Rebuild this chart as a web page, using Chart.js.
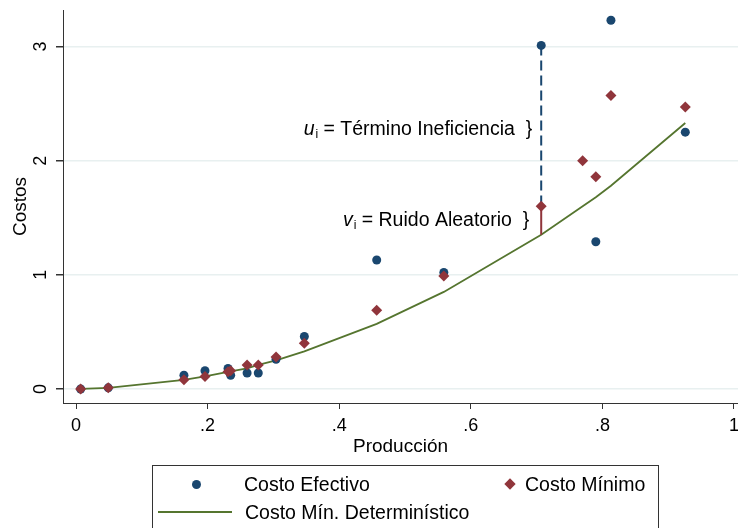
<!DOCTYPE html>
<html>
<head>
<meta charset="utf-8">
<script src="https://cdn.jsdelivr.net/npm/chart.js@4/dist/chart.umd.min.js"></script>
<style>
  body { margin: 0; background: #fff; }
  #wrap { position: relative; width: 738px; height: 528px; overflow: hidden;
          font-family: "Liberation Sans", Arial, sans-serif; }
  #legend { position: absolute; left: 152px; top: 465px; width: 507px; height: 80px;
            border: 1px solid #333; box-sizing: border-box; }
  .item { position: absolute; font-size: 19.5px; color: #000; white-space: nowrap; }
  .mk { position: absolute; }
</style>
</head>
<body>
<div id="wrap">
  <canvas id="chart" width="738" height="528"></canvas>
  <div id="legend"></div>
</div>
<script>
// output (x) shared by all series
let produccion = [0.007, 0.049, 0.164, 0.196, 0.231, 0.235, 0.260, 0.277, 0.304,
                  0.347, 0.457, 0.559, 0.707, 0.770, 0.790, 0.813, 0.926];
// observed cost
let costoEfectivo = [0.00, 0.01, 0.12, 0.16, 0.18, 0.12, 0.14, 0.14, 0.26,
                     0.46, 1.13, 1.02, 3.01, null, 1.29, 3.23, 2.25];
// minimum cost (frontier + noise)
let costoMinimo = [0.00, 0.01, 0.08, 0.11, 0.15, 0.16, 0.21, 0.21, 0.28,
                   0.40, 0.69, 0.99, 1.60, 2.00, 1.86, 2.57, 2.47];
// deterministic frontier
let costoDet = [0.00, 0.01, 0.08, 0.11, 0.15, 0.155, 0.18, 0.21, 0.25,
                0.33, 0.57, 0.85, 1.35, 1.60, 1.68, 1.78, 2.33];

let xTicks = [0, 0.2, 0.4, 0.6, 0.8, 1];
let xTickLabels = ['0', '.2', '.4', '.6', '.8', '1'];
let yTicks = [0, 1, 2, 3];

// the observation used to show the two error parts
let obs = 12;

const navy = '#1a476f';
const maroon = '#90353b';
const green = '#55752f';
const font = '"Liberation Sans", Arial, sans-serif';

function pts(ys) {
  let out = [];
  for (let i = 0; i < produccion.length; i++) {
    if (ys[i] !== null) out.push({x: produccion[i], y: ys[i]});
  }
  return out;
}

// rotated y tick labels + the u / v annotations
const extras = {
  id: 'extras',
  afterDraw(chart) {
    const ctx = chart.ctx;
    const xs = chart.scales.x, ys = chart.scales.y;
    ctx.save();
    ctx.fillStyle = '#000';
    ctx.font = '18px ' + font;
    ctx.textAlign = 'center';
    ctx.textBaseline = 'middle';
    for (let v of yTicks) {
      ctx.save();
      ctx.translate(41, ys.getPixelForValue(v));
      ctx.rotate(-Math.PI / 2);
      ctx.fillText(String(v), 0, 0);
      ctx.restore();
    }

    let xo = xs.getPixelForValue(produccion[obs]);
    let notes = [
      {sym: 'u', text: ' = Término Ineficiencia  }', y: (costoEfectivo[obs] + costoMinimo[obs]) / 2, dy: 2, gap: 9},
      {sym: 'v', text: ' = Ruido Aleatorio  }', y: (costoMinimo[obs] + costoDet[obs]) / 2, dy: -2, gap: 12}
    ];
    ctx.textAlign = 'left';
    ctx.textBaseline = 'alphabetic';
    for (let n of notes) {
      let py = ys.getPixelForValue(n.y) + n.dy + 7;
      ctx.font = '19.5px ' + font;
      let wText = ctx.measureText(n.text).width;
      ctx.font = '12px ' + font;
      let wSub = ctx.measureText('i').width;
      ctx.font = 'italic 19.5px ' + font;
      let wSym = ctx.measureText(n.sym).width;
      let x0 = xo - n.gap - wText - wSub - wSym - 1;
      ctx.fillText(n.sym, x0, py);
      ctx.font = '12px ' + font;
      ctx.fillText('i', x0 + wSym + 1, py + 3);
      ctx.font = '19.5px ' + font;
      ctx.fillText(n.text, x0 + wSym + wSub + 1, py);
    }
    ctx.restore();
  }
};

let chart = new Chart(document.getElementById('chart'), {
  type: 'scatter',
  data: {
    datasets: [
      {
        label: 'Costo Mínimo',
        data: pts(costoMinimo),
        pointStyle: 'rectRot',
        pointRadius: 5.5,
        backgroundColor: maroon,
        borderColor: maroon,
        borderWidth: 0
      },
      {
        label: 'Costo Efectivo',
        data: pts(costoEfectivo),
        pointStyle: 'circle',
        pointRadius: 4.5,
        backgroundColor: navy,
        borderColor: navy,
        borderWidth: 0
      },
      {
        label: 'u',
        data: [{x: produccion[obs], y: costoEfectivo[obs]}, {x: produccion[obs], y: costoMinimo[obs]}],
        showLine: true,
        pointRadius: 0,
        borderColor: navy,
        borderWidth: 2,
        borderDash: [10, 5]
      },
      {
        label: 'v',
        data: [{x: produccion[obs], y: costoMinimo[obs]}, {x: produccion[obs], y: costoDet[obs]}],
        showLine: true,
        pointRadius: 0,
        borderColor: maroon,
        borderWidth: 2
      },
      {
        label: 'Costo Mín. Determinístico',
        data: pts(costoDet),
        showLine: true,
        pointRadius: 0,
        borderColor: green,
        borderWidth: 1.8,
        tension: 0
      }
    ]
  },
  options: {
    responsive: false,
    animation: false,
    layout: { autoPadding: false, padding: { top: 10, bottom: 70, left: 0, right: 0 } },
    plugins: {
      legend: { display: false },
      tooltip: { enabled: false }
    },
    scales: {
      x: {
        type: 'linear',
        min: -0.0198,
        max: 1.0061,
        afterBuildTicks: s => { s.ticks = xTicks.map(v => ({value: v})); },
        afterFit: s => { s.height = 55; s.paddingLeft = 0; s.paddingRight = 0; },
        border: { color: '#333', width: 1 },
        grid: { display: true, drawOnChartArea: false, drawTicks: true, tickLength: 6, tickColor: '#333' },
        ticks: {
          color: '#000',
          font: { family: font, size: 18 },
          padding: 6,
          maxRotation: 0,
          callback: (v, i) => xTickLabels[i]
        },
        title: {
          display: true,
          text: 'Producción',
          color: '#000',
          font: { family: font, size: 19 },
          padding: { top: 0, bottom: 0 }
        }
      },
      y: {
        type: 'linear',
        min: -0.123,
        max: 3.32,
        afterBuildTicks: s => { s.ticks = yTicks.map(v => ({value: v})); },
        afterFit: s => { s.width = 63; s.paddingTop = 0; s.paddingBottom = 0; },
        border: { color: '#333', width: 1 },
        grid: { display: true, color: '#e8f0f0', lineWidth: 1.5, drawTicks: true, tickLength: 7, tickColor: '#333' },
        ticks: { display: false },
        title: {
          display: true,
          text: 'Costos',
          color: '#000',
          font: { family: font, size: 19 },
          padding: { top: 9, bottom: 0 }
        }
      }
    }
  },
  plugins: [extras]
});

// legend box, two columns like the original
let legend = document.getElementById('legend');
let items = [
  {label: chart.data.datasets[1].label, kind: 'dot',     mx: 43,  my: 18, tx: 91,  ty: 7},
  {label: chart.data.datasets[0].label, kind: 'diamond', mx: 357, my: 18, tx: 372, ty: 7},
  {label: chart.data.datasets[4].label, kind: 'line',    mx: 5,   my: 46, tx: 92,  ty: 35}
];
for (let it of items) {
  let m = document.createElement('div');
  m.className = 'mk';
  if (it.kind === 'dot') {
    Object.assign(m.style, {left: (it.mx - 4.5) + 'px', top: (it.my - 4.5) + 'px', width: '9px', height: '9px',
      borderRadius: '50%', background: navy});
  } else if (it.kind === 'diamond') {
    Object.assign(m.style, {left: (it.mx - 4) + 'px', top: (it.my - 4) + 'px', width: '8px', height: '8px',
      background: maroon, transform: 'rotate(45deg)'});
  } else {
    Object.assign(m.style, {left: it.mx + 'px', top: (it.my - 1) + 'px', width: '74px', height: '2px',
      background: green});
  }
  legend.appendChild(m);
  let t = document.createElement('div');
  t.className = 'item';
  t.textContent = it.label;
  t.style.left = it.tx + 'px';
  t.style.top = it.ty + 'px';
  legend.appendChild(t);
}
</script>
</body>
</html>
